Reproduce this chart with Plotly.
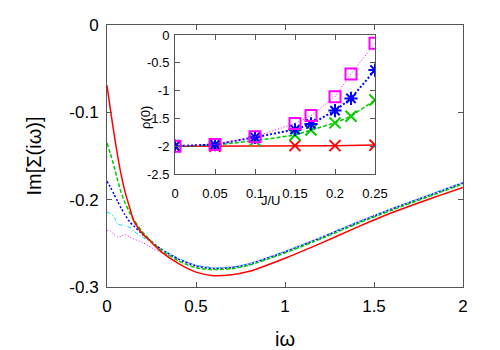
import plotly.graph_objects as go

# main panel: Im[Sigma(i omega)] vs i omega
omega = [0.0, 0.02, 0.04, 0.06, 0.08, 0.1, 0.13, 0.15, 0.2, 0.25, 0.3, 0.4, 0.5,
         0.6, 0.7, 0.8, 1.0, 1.2, 1.4, 1.6, 1.8, 2.0]
sig_red = [-0.069, -0.098, -0.125, -0.150, -0.172, -0.190, -0.211, -0.224, -0.239, -0.249,
           -0.259, -0.273, -0.283, -0.287, -0.286, -0.282, -0.267, -0.250, -0.232, -0.215,
           -0.200, -0.186]
sig_green = [-0.135, -0.148, -0.162, -0.178, -0.192, -0.203, -0.216, -0.223, -0.237, -0.248,
             -0.257, -0.270, -0.278, -0.280, -0.279, -0.275, -0.261, -0.245, -0.228, -0.212,
             -0.197, -0.182]
sig_blue = [-0.179, -0.186, -0.194, -0.202, -0.210, -0.217, -0.226, -0.230, -0.240, -0.248,
            -0.256, -0.268, -0.276, -0.279, -0.278, -0.274, -0.260, -0.244, -0.227, -0.211,
            -0.196, -0.181]
sig_cyan = [-0.214, -0.216, -0.220, -0.228, -0.229, -0.230, -0.232, -0.236, -0.243, -0.249,
            -0.256, -0.267, -0.275, -0.278, -0.277, -0.273, -0.259, -0.243, -0.226, -0.210,
            -0.195, -0.180]
sig_magenta = [-0.235, -0.236, -0.240, -0.243, -0.242, -0.240, -0.243, -0.245, -0.249, -0.255,
               -0.260, -0.268, -0.275, -0.278, -0.277, -0.273, -0.259, -0.243, -0.226, -0.210,
               -0.195, -0.180]

# inset: rho(0) vs J/U
ju_red = [0.0, 0.05, 0.15, 0.2, 0.25]
rho_red = [-2.0, -2.0, -1.99, -1.99, -1.98]
ju = [0.0, 0.05, 0.1, 0.15, 0.17, 0.2, 0.22, 0.25]
rho_green = [-2.0, -1.98, -1.90, -1.80, -1.71, -1.58, -1.46, -1.17]
rho_blue = [-2.0, -1.97, -1.84, -1.70, -1.60, -1.36, -1.14, -0.63]
rho_magenta = [-2.0, -1.97, -1.83, -1.59, -1.45, -1.11, -0.70, -0.15]

# tick labels
x_ticks = [0, 0.5, 1, 1.5, 2]
x_labels = ['0', '0.5', '1', '1.5', '2']
y_ticks = [0, -0.1, -0.2, -0.3]
y_labels = ['0', '-0.1', '-0.2', '-0.3']
x2_ticks = [0, 0.05, 0.1, 0.15, 0.2, 0.25]
x2_labels = ['0', '0.05', '0.1', '0.15', '0.2', '0.25']
y2_ticks = [0, -0.5, -1, -1.5, -2, -2.5]
y2_labels = ['0', '-0.5', '-1', '-1.5', '-2', '-2.5']

RED, GREEN, BLUE = '#ff0000', '#00cc00', '#0000ff'
CYAN, MAGENTA = '#00e0e0', '#ff00ff'
FONT = 'Liberation Sans, Arial, sans-serif'

fig = go.Figure()

main = [
    (sig_red, RED, 'solid', 1.5),
    (sig_green, GREEN, '4px,2px', 1.5),
    (sig_blue, BLUE, '2px,2px', 1.5),
    (sig_cyan, CYAN, '4px,2px,1px,2px', 1),
    (sig_magenta, MAGENTA, '1px,2px', 1),
]
for y, c, d, w in main[::-1]:
    fig.add_trace(go.Scatter(x=omega, y=y, mode='lines',
                             line=dict(color=c, dash=d, width=w, shape='spline', smoothing=0.6),
                             xaxis='x', yaxis='y'))

inset = [
    (ju_red, rho_red, RED, 'solid', 1.5, 'x-thin-open'),
    (ju, rho_green, GREEN, '4px,2px', 1.5, 'x-thin-open'),
    (ju, rho_blue, BLUE, '2px,2px', 2, 'asterisk-open'),
    (ju, rho_magenta, MAGENTA, '1px,2px', 1, 'square-open'),
]
for x, y, c, d, w, s in inset:
    fig.add_trace(go.Scatter(x=x, y=y, mode='lines+markers',
                             line=dict(color=c, dash=d, width=w),
                             marker=dict(symbol=s, size=11, color=c,
                                         line=dict(color=c, width=2)),
                             xaxis='x2', yaxis='y2'))

ax = dict(showgrid=False, zeroline=False, showline=True, linecolor='#555555', linewidth=1,
          mirror='ticks', ticks='inside', ticklen=5, tickcolor='#555555', automargin=False)

# page has an 8px body margin, so the figure is a bit smaller than the window
W, H = 492, 342
L, R, T, B = 99, 37, 17, 63
pw, ph = W - L - R, H - T - B


def px(x, y):
    # page pixel position -> paper coordinates
    return (x - 8 - L) / pw, (H - B - (y - 8)) / ph


jx, jy = px(271, 210)
rx, ry = px(136, 104)
ix0, iy1 = px(175, 35)
ix1, iy0 = px(375, 174)

fig.update_layout(
    width=W, height=H,
    margin=dict(l=L, r=R, t=T, b=B),
    paper_bgcolor='white', plot_bgcolor='white',
    showlegend=False,
    font=dict(family=FONT, size=17, color='black'),
    xaxis=dict(ax, range=[0, 2], tickvals=x_ticks, ticktext=x_labels, ticklabelstandoff=4,
               title=dict(text='iω', standoff=18)),
    yaxis=dict(ax, range=[-0.3, 0], tickvals=y_ticks, ticktext=y_labels, ticklabelstandoff=4,
               title=dict(text='Im[Σ(iω)]', standoff=22)),
    xaxis2=dict(ax, domain=[ix0, ix1], anchor='y2', range=[0, 0.25],
                tickvals=x2_ticks, ticktext=x2_labels, tickfont=dict(size=13),
                ticklabelstandoff=7),
    yaxis2=dict(ax, domain=[iy0, iy1], anchor='x2', range=[-2.5, 0],
                tickvals=y2_ticks, ticktext=y2_labels, tickfont=dict(size=13),
                ticklabelstandoff=2),
    annotations=[
        dict(text='J/U', x=jx, y=jy, xref='paper', yref='paper', showarrow=False,
             font=dict(size=13)),
        dict(text='ρ(0)', x=rx, y=ry, xref='paper', yref='paper', showarrow=False,
             textangle=-90, font=dict(size=13)),
    ],
)

fig.write_html("out.html")
